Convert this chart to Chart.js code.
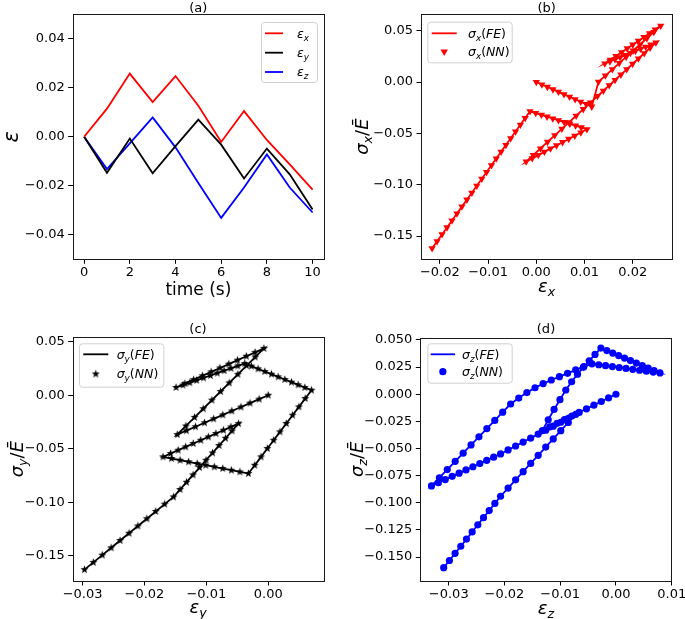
<!DOCTYPE html>
<html>
<head>
<meta charset="utf-8">
<script src="https://cdn.jsdelivr.net/npm/chart.js"></script>
<style>
  html, body { margin: 0; padding: 0; background: #fff; }
  #wrap { position: relative; width: 685px; height: 619px; }
  #wrap canvas { position: absolute; left: 0; top: 0; }
</style>
</head>
<body>
<div id="wrap">
  <canvas id="pa" width="685" height="619"></canvas>
  <canvas id="pb" width="685" height="619"></canvas>
  <canvas id="pc" width="685" height="619"></canvas>
  <canvas id="pd" width="685" height="619"></canvas>
</div>
<script>
// Panel (a): strain components at whole seconds
const timeS = [0, 1, 2, 3, 4, 5, 6, 7, 8, 9, 10];
const epsX = [0, 0.0115, 0.0258, 0.0142, 0.0248, 0.0127, -0.0021, 0.0105, -0.0013, -0.0113, -0.0216];
const epsY = [0, -0.0147, -0.0007, -0.0149, -0.0038, 0.0070, -0.0032, -0.0170, -0.0048, -0.0153, -0.0297];
const epsZ = [0, -0.0132, -0.0027, 0.0079, -0.0043, -0.0189, -0.0331, -0.0207, -0.0072, -0.0207, -0.0309];

// Panel (b): eps_x vs sigma_x / E at 0.1 s steps
const strainX = [
  0, 0.00115, 0.0023, 0.00345, 0.0046, 0.00575, 0.0069, 0.00805, 0.0092, 0.01035,
  0.0115, 0.0129, 0.01433, 0.01577, 0.0172, 0.01863, 0.02007, 0.0215, 0.02293, 0.02437,
  0.0258, 0.02464, 0.02348, 0.02232, 0.02116, 0.02, 0.01884, 0.01768, 0.01652, 0.01536,
  0.0142, 0.01526, 0.01632, 0.01738, 0.01844, 0.0195, 0.02056, 0.02162, 0.02268, 0.02374,
  0.0248, 0.02359, 0.02238, 0.02117, 0.01996, 0.01875, 0.01754, 0.01633, 0.01512, 0.01391,
  0.0127, 0.01122, 0.00974, 0.00826, 0.00678, 0.0053, 0.00382, 0.00234, 0.00086, -0.00062,
  -0.0021, -0.00084, 0.00042, 0.00168, 0.00294, 0.0042, 0.00546, 0.00672, 0.00798, 0.00924,
  0.0105, 0.00932, 0.00814, 0.00696, 0.00578, 0.0046, 0.00342, 0.00224, 0.00106, -0.00012,
  -0.0013, -0.0023, -0.0033, -0.0043, -0.0053, -0.0063, -0.0073, -0.0083, -0.0093, -0.0103,
  -0.0113, -0.01233, -0.01336, -0.01439, -0.01542, -0.01645, -0.01748, -0.01851, -0.01954, -0.02057, -0.0216
];
const stressX = [
  0, -0.0024, -0.0048, -0.0072, -0.0096, -0.012, -0.0144, -0.0168, -0.0192, -0.0216,
  -0.024, 0.0002, 0.00627, 0.01233, 0.0184, 0.02447, 0.03053, 0.0366, 0.04267, 0.04873,
  0.0548, 0.05112, 0.04744, 0.04376, 0.04008, 0.0364, 0.03272, 0.02904, 0.02536, 0.02168,
  0.018, 0.02005, 0.0221, 0.02415, 0.0262, 0.02825, 0.0303, 0.03235, 0.0344, 0.03645,
  0.0385, 0.03328, 0.02806, 0.02284, 0.01762, 0.0124, 0.00718, 0.00196, -0.00326, -0.00848,
  -0.0137, -0.02008, -0.02646, -0.03284, -0.03922, -0.0456, -0.05198, -0.05836, -0.06474, -0.07112,
  -0.0775, -0.07435, -0.0712, -0.06805, -0.0649, -0.06175, -0.0586, -0.05545, -0.0523, -0.04915,
  -0.046, -0.04425, -0.0425, -0.04075, -0.039, -0.03725, -0.0355, -0.03375, -0.032, -0.03025,
  -0.0285, -0.03508, -0.04166, -0.04824, -0.05482, -0.0614, -0.06798, -0.07456, -0.08114, -0.08772,
  -0.0943, -0.10107, -0.10784, -0.11461, -0.12138, -0.12815, -0.13492, -0.14169, -0.14846, -0.15523, -0.162
];

// Panel (c): eps_y vs sigma_y / E
const strainY = [
  0, -0.00147, -0.00294, -0.00441, -0.00588, -0.00735, -0.00882, -0.01029, -0.01176, -0.01323,
  -0.0147, -0.0133, -0.0119, -0.0105, -0.0091, -0.0077, -0.0063, -0.0049, -0.0035, -0.0021,
  -0.0007, -0.00212, -0.00354, -0.00496, -0.00638, -0.0078, -0.00922, -0.01064, -0.01206, -0.01348,
  -0.0149, -0.01379, -0.01268, -0.01157, -0.01046, -0.00935, -0.00824, -0.00713, -0.00602, -0.00491,
  -0.0038, -0.00272, -0.00164, -0.00056, 0.00052, 0.0016, 0.00268, 0.00376, 0.00484, 0.00592,
  0.007, 0.00598, 0.00496, 0.00394, 0.00292, 0.0019, 0.00088, -0.00014, -0.00116, -0.00218,
  -0.0032, -0.00458, -0.00596, -0.00734, -0.00872, -0.0101, -0.01148, -0.01286, -0.01424, -0.01562,
  -0.017, -0.01578, -0.01456, -0.01334, -0.01212, -0.0109, -0.00968, -0.00846, -0.00724, -0.00602,
  -0.0048, -0.00585, -0.0069, -0.00795, -0.009, -0.01005, -0.0111, -0.01215, -0.0132, -0.01425,
  -0.0153, -0.01674, -0.01818, -0.01962, -0.02106, -0.0225, -0.02394, -0.02538, -0.02682, -0.02826, -0.0297
];
const stressY = [
  0, -0.00368, -0.00736, -0.01104, -0.01472, -0.0184, -0.02208, -0.02576, -0.02944, -0.03312,
  -0.0368, -0.02875, -0.0207, -0.01265, -0.0046, 0.00345, 0.0115, 0.01955, 0.0276, 0.03565,
  0.0437, 0.04005, 0.0364, 0.03275, 0.0291, 0.02545, 0.0218, 0.01815, 0.0145, 0.01085,
  0.0072, 0.00944, 0.01168, 0.01392, 0.01616, 0.0184, 0.02064, 0.02288, 0.02512, 0.02736,
  0.0296, 0.02711, 0.02462, 0.02213, 0.01964, 0.01715, 0.01466, 0.01217, 0.00968, 0.00719,
  0.0047, -0.00309, -0.01088, -0.01867, -0.02646, -0.03425, -0.04204, -0.04983, -0.05762, -0.06541,
  -0.0732, -0.07164, -0.07008, -0.06852, -0.06696, -0.0654, -0.06384, -0.06228, -0.06072, -0.05916,
  -0.0576, -0.05449, -0.05138, -0.04827, -0.04516, -0.04205, -0.03894, -0.03583, -0.03272, -0.02961,
  -0.0265, -0.03335, -0.0402, -0.04705, -0.0539, -0.06075, -0.0676, -0.07445, -0.0813, -0.08815,
  -0.095, -0.1018, -0.1086, -0.1154, -0.1222, -0.129, -0.1358, -0.1426, -0.1494, -0.1562, -0.163
];

// Panel (d): eps_z vs sigma_z / E
const strainZ = [
  0, -0.00132, -0.00264, -0.00396, -0.00528, -0.0066, -0.00792, -0.00924, -0.01056, -0.01188,
  -0.0132, -0.01215, -0.0111, -0.01005, -0.009, -0.00795, -0.0069, -0.00585, -0.0048, -0.00375,
  -0.0027, -0.00164, -0.00058, 0.00048, 0.00154, 0.0026, 0.00366, 0.00472, 0.00578, 0.00684,
  0.0079, 0.00668, 0.00546, 0.00424, 0.00302, 0.0018, 0.00058, -0.00064, -0.00186, -0.00308,
  -0.0043, -0.00576, -0.00722, -0.00868, -0.01014, -0.0116, -0.01306, -0.01452, -0.01598, -0.01744,
  -0.0189, -0.02032, -0.02174, -0.02316, -0.02458, -0.026, -0.02742, -0.02884, -0.03026, -0.03168,
  -0.0331, -0.03186, -0.03062, -0.02938, -0.02814, -0.0269, -0.02566, -0.02442, -0.02318, -0.02194,
  -0.0207, -0.01935, -0.018, -0.01665, -0.0153, -0.01395, -0.0126, -0.01125, -0.0099, -0.00855,
  -0.0072, -0.00855, -0.0099, -0.01125, -0.0126, -0.01395, -0.0153, -0.01665, -0.018, -0.01935,
  -0.0207, -0.02172, -0.02274, -0.02376, -0.02478, -0.0258, -0.02682, -0.02784, -0.02886, -0.02988, -0.0309
];
const stressZ = [
  0, -0.00335, -0.0067, -0.01005, -0.0134, -0.01675, -0.0201, -0.02345, -0.0268, -0.03015,
  -0.0335, -0.0235, -0.014, -0.005, 0.0039, 0.0115, 0.0185, 0.0248, 0.0308, 0.0367,
  0.0425, 0.04021, 0.03792, 0.03563, 0.03334, 0.03105, 0.02876, 0.02647, 0.02418, 0.02189,
  0.0196, 0.02044, 0.02128, 0.02212, 0.02296, 0.0238, 0.02464, 0.02548, 0.02632, 0.02716,
  0.028, 0.0255, 0.0224, 0.0193, 0.0162, 0.0131, 0.0098, 0.006, 0.0015, -0.0035,
  -0.009, -0.01655, -0.0241, -0.03165, -0.0392, -0.04675, -0.0543, -0.06185, -0.0694, -0.07695,
  -0.0845, -0.08155, -0.0786, -0.07565, -0.0727, -0.06975, -0.0668, -0.06385, -0.0609, -0.05795,
  -0.055, -0.05135, -0.0477, -0.04405, -0.0404, -0.03675, -0.0331, -0.02945, -0.0258, -0.02215,
  -0.0185, -0.02605, -0.0336, -0.04115, -0.0487, -0.05625, -0.0638, -0.07135, -0.0789, -0.08645,
  -0.094, -0.10058, -0.10716, -0.11374, -0.12032, -0.1269, -0.13348, -0.14006, -0.14664, -0.15322, -0.1598
];

// Tick values and labels
const ticksTime = [0, 2, 4, 6, 8, 10];
const labelsTime = ['0', '2', '4', '6', '8', '10'];
const ticksEpsA = [-0.04, -0.02, 0, 0.02, 0.04];
const labelsEpsA = ['\u22120.04', '\u22120.02', '0.00', '0.02', '0.04'];
const ticksStrainB = [-0.02, -0.01, 0, 0.01, 0.02];
const labelsStrainB = ['\u22120.02', '\u22120.01', '0.00', '0.01', '0.02'];
const ticksStressBC = [-0.15, -0.10, -0.05, 0, 0.05];
const labelsStressBC = ['\u22120.15', '\u22120.10', '\u22120.05', '0.00', '0.05'];
const ticksStrainC = [-0.03, -0.02, -0.01, 0];
const labelsStrainC = ['\u22120.03', '\u22120.02', '\u22120.01', '0.00'];
const ticksStrainD = [-0.03, -0.02, -0.01, 0, 0.01];
const labelsStrainD = ['\u22120.03', '\u22120.02', '\u22120.01', '0.00', '0.01'];
const ticksStressD = [-0.15, -0.125, -0.1, -0.075, -0.05, -0.025, 0, 0.025, 0.05];
const labelsStressD = ['\u22120.150', '\u22120.125', '\u22120.100', '\u22120.075', '\u22120.050', '\u22120.025', '0.000', '0.025', '0.050'];

const FONT = '"DejaVu Sans", "Liberation Sans", sans-serif';
Chart.defaults.font.family = FONT;
Chart.defaults.color = '#000';

function pts(xs, ys) {
  return xs.map((x, i) => ({ x: x, y: ys[i] }));
}

// small filled star used for the sigma_y(NN) markers
function starImage(r, color) {
  const c = document.createElement('canvas');
  const s = Math.ceil(2 * r + 2);
  c.width = s; c.height = s;
  const g = c.getContext('2d');
  g.fillStyle = color;
  g.beginPath();
  for (let k = 0; k < 10; k++) {
    const rr = k % 2 ? r * 0.42 : r;
    const ang = -Math.PI / 2 + k * Math.PI / 5;
    g.lineTo(s / 2 + rr * Math.cos(ang), s / 2 + rr * Math.sin(ang));
  }
  g.closePath();
  g.fill();
  return c;
}
const star = starImage(4.2, '#000');

// text with italic parts and subscripts, like matplotlib mathtext
function partFont(kind, size) {
  const s = kind === 's' ? size * 0.7 : size;
  return (kind === 'r' ? '' : 'italic ') + s.toFixed(1) + 'px ' + FONT;
}
function drawMath(ctx, parts, x, y, size, align) {
  let w = 0;
  for (const [t, k] of parts) { ctx.font = partFont(k, size); w += ctx.measureText(t).width; }
  let cx = align === 'center' ? x - w / 2 : x;
  ctx.textAlign = 'left';
  ctx.textBaseline = 'alphabetic';
  for (const [t, k] of parts) {
    ctx.font = partFont(k, size);
    ctx.fillText(t, cx, k === 's' ? y + size * 0.24 : y);
    cx += ctx.measureText(t).width;
  }
}

// titles, axis labels, frame and legends for each panel
const decor = {};
const decorPlugin = {
  id: 'decor',
  afterDatasetsDraw(chart) {
    const a = chart.chartArea, ctx = chart.ctx;
    ctx.save();
    ctx.strokeStyle = '#1a1a1a';
    ctx.lineWidth = 1;
    ctx.strokeRect(Math.round(a.left) + 0.5, Math.round(a.top) + 0.5,
      Math.round(a.right - a.left), Math.round(a.bottom - a.top));
    ctx.restore();
  },
  afterDraw(chart) {
    const d = decor[chart.canvas.id];
    const a = chart.chartArea, ctx = chart.ctx;
    ctx.save();
    ctx.fillStyle = '#000';
    drawMath(ctx, [[d.title, 'r']], (a.left + a.right) / 2, d.titleBase, 13, 'center');
    drawMath(ctx, d.xl.parts, (a.left + a.right) / 2, d.xl.base, d.xl.size, 'center');
    ctx.save();
    ctx.translate(d.yl.bx, (a.top + a.bottom) / 2);
    ctx.rotate(-Math.PI / 2);
    drawMath(ctx, d.yl.parts, 0, 0, d.yl.size, 'center');
    ctx.restore();

    const L = d.leg;
    const [x0, y0, x1, y1] = L.box;
    ctx.beginPath();
    ctx.roundRect(x0 + 0.5, y0 + 0.5, x1 - x0, y1 - y0, 3);
    ctx.fillStyle = 'rgba(255,255,255,0.8)';
    ctx.fill();
    ctx.strokeStyle = '#d0d0d0';
    ctx.lineWidth = 1;
    ctx.stroke();
    for (const row of L.rows) {
      ctx.fillStyle = row.color;
      ctx.strokeStyle = row.color;
      const mx = (L.hx[0] + L.hx[1]) / 2;
      if (row.mark === 'line') {
        ctx.lineWidth = 1.8;
        ctx.beginPath();
        ctx.moveTo(L.hx[0], row.y);
        ctx.lineTo(L.hx[1], row.y);
        ctx.stroke();
      } else if (row.mark === 'tri') {
        ctx.beginPath();
        ctx.moveTo(mx, row.y + 4.2);
        ctx.lineTo(mx - 3.7, row.y - 2.1);
        ctx.lineTo(mx + 3.7, row.y - 2.1);
        ctx.closePath();
        ctx.fill();
      } else if (row.mark === 'dot') {
        ctx.beginPath();
        ctx.arc(mx, row.y, 3.6, 0, Math.PI * 2);
        ctx.fill();
      } else if (row.mark === 'star') {
        ctx.drawImage(star, mx - star.width / 2, row.y - star.height / 2);
      }
      ctx.fillStyle = '#000';
      drawMath(ctx, row.parts, L.tx, row.y + 4.2, 12.5, 'left');
    }
    ctx.restore();
  }
};

function axisOpts(ax, kind) {
  return {
    type: 'linear',
    min: ax.min,
    max: ax.max,
    afterBuildTicks: (s) => { s.ticks = ax.ticks.map(v => ({ value: v })); },
    afterFit: (s) => {
      if (kind === 'x') { s.height = 30; s.paddingLeft = 0; s.paddingRight = 0; }
      else { s.width = 70; s.paddingTop = 0; s.paddingBottom = 0; }
    },
    grid: { display: true, drawOnChartArea: false, drawTicks: true, tickLength: 4.5, tickColor: '#000', lineWidth: 1 },
    border: { display: false },
    ticks: {
      autoSkip: false, maxRotation: 0, minRotation: 0,
      padding: kind === 'x' ? 1 : 3.5,
      color: '#000',
      font: { size: 13 },
      callback: (v, i) => ax.labels[i]
    }
  };
}

function makePanel(id, p) {
  decor[id] = p.decor;
  const [l, t, r, b] = p.area;
  return new Chart(document.getElementById(id), {
    type: 'scatter',
    data: { datasets: p.datasets },
    options: {
      responsive: false,
      animation: false,
      events: [],
      layout: { padding: { left: l - 70, top: t, right: 685 - r, bottom: 619 - b - 30 } },
      plugins: { legend: { display: false }, tooltip: { enabled: false } },
      scales: { x: axisOpts(p.x, 'x'), y: axisOpts(p.y, 'y') }
    },
    plugins: [decorPlugin]
  });
}

function lineSet(xs, ys, color) {
  return { data: pts(xs, ys), showLine: true, borderColor: color, borderWidth: 1.8, pointRadius: 0, tension: 0, order: 2 };
}

const fe = (s) => [['\u03c3', 'i'], [s, 's'], ['(', 'r'], ['FE', 'i'], [')', 'r']];
const nn = (s) => [['\u03c3', 'i'], [s, 's'], ['(', 'r'], ['NN', 'i'], [')', 'r']];
const sigLabel = (s) => [['\u03c3', 'i'], [s, 's'], ['/', 'r'], ['\u0112', 'i']];

makePanel('pa', {
  area: [72.7, 14.3, 324, 259.3],
  x: { min: -0.5, max: 10.5, ticks: ticksTime, labels: labelsTime },
  y: { min: -0.05, max: 0.05, ticks: ticksEpsA, labels: labelsEpsA },
  datasets: [
    lineSet(timeS, epsX, '#ff0000'),
    lineSet(timeS, epsY, '#000000'),
    lineSet(timeS, epsZ, '#0000ff')
  ],
  decor: {
    title: '(a)', titleBase: 11.5,
    xl: { parts: [['time (s)', 'r']], size: 17, base: 294.5 },
    yl: { parts: [['\u03b5', 'i']], size: 21, bx: 17.5 },
    leg: { box: [261, 22, 317, 82], hx: [265, 283], tx: 297, rows: [
      { y: 33.3, color: '#ff0000', mark: 'line', parts: [['\u03b5', 'i'], ['x', 's']] },
      { y: 52.7, color: '#000000', mark: 'line', parts: [['\u03b5', 'i'], ['y', 's']] },
      { y: 72, color: '#0000ff', mark: 'line', parts: [['\u03b5', 'i'], ['z', 's']] }
    ] }
  }
});

makePanel('pb', {
  area: [421, 14, 672.3, 259.3],
  x: { min: -0.0239, max: 0.0282, ticks: ticksStrainB, labels: labelsStrainB },
  y: { min: -0.1727, max: 0.0663, ticks: ticksStressBC, labels: labelsStressBC },
  datasets: [
    lineSet(strainX, stressX, '#ff0000'),
    { data: pts(strainX, stressX), showLine: false, pointStyle: 'triangle', pointRotation: 180,
      pointRadius: 4.2, pointBackgroundColor: '#ff0000', pointBorderWidth: 0, order: 1 }
  ],
  decor: {
    title: '(b)', titleBase: 11.5,
    xl: { parts: [['\u03b5', 'i'], ['x', 's']], size: 18, base: 292 },
    yl: { parts: sigLabel('x'), size: 18, bx: 368 },
    leg: { box: [427.3, 21.7, 511.7, 62.3], hx: [431.7, 456.7], tx: 468, rows: [
      { y: 33.3, color: '#ff0000', mark: 'line', parts: fe('x') },
      { y: 51.7, color: '#ff0000', mark: 'tri', parts: nn('x') }
    ] }
  }
});

makePanel('pc', {
  area: [72.7, 337.3, 323.3, 581],
  x: { min: -0.0316, max: 0.0089, ticks: ticksStrainC, labels: labelsStrainC },
  y: { min: -0.1736, max: 0.0541, ticks: ticksStressBC, labels: labelsStressBC },
  datasets: [
    lineSet(strainY, stressY, '#000000'),
    { data: pts(strainY, stressY), showLine: false, pointStyle: star, pointRadius: 4.2, order: 1 }
  ],
  decor: {
    title: '(c)', titleBase: 332.5,
    xl: { parts: [['\u03b5', 'i'], ['y', 's']], size: 18, base: 613 },
    yl: { parts: sigLabel('y'), size: 18, bx: 23 },
    leg: { box: [79, 343.3, 163.3, 386.7], hx: [83.3, 108.3], tx: 116.7, rows: [
      { y: 354.3, color: '#000000', mark: 'line', parts: fe('y') },
      { y: 374, color: '#000000', mark: 'star', parts: nn('y') }
    ] }
  }
});

makePanel('pd', {
  area: [420.3, 337.7, 671.7, 581],
  x: { min: -0.0351, max: 0.0100, ticks: ticksStrainD, labels: labelsStrainD },
  y: { min: -0.1721, max: 0.0521, ticks: ticksStressD, labels: labelsStressD },
  datasets: [
    lineSet(strainZ, stressZ, '#0000ff'),
    { data: pts(strainZ, stressZ), showLine: false, pointStyle: 'circle', pointRadius: 3.6,
      pointBackgroundColor: '#0000ff', pointBorderWidth: 0, order: 1 }
  ],
  decor: {
    title: '(d)', titleBase: 332.5,
    xl: { parts: [['\u03b5', 'i'], ['z', 's']], size: 18, base: 614 },
    yl: { parts: sigLabel('z'), size: 18, bx: 363 },
    leg: { box: [427.3, 343.3, 511.7, 382.7], hx: [430.7, 455], tx: 462, rows: [
      { y: 354.3, color: '#0000ff', mark: 'line', parts: fe('z') },
      { y: 371.7, color: '#0000ff', mark: 'dot', parts: nn('z') }
    ] }
  }
});
</script>
</body>
</html>
